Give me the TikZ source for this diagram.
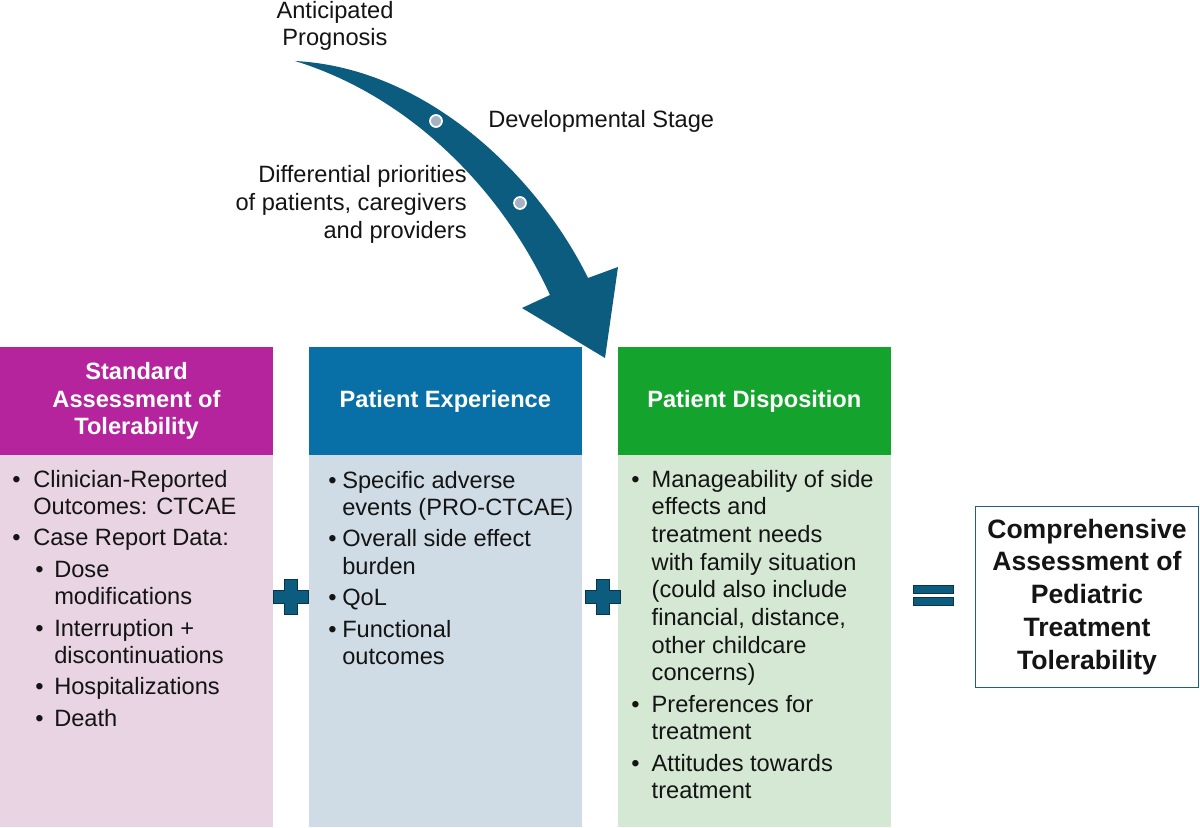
\documentclass[tikz,border=0pt]{standalone}
\usepackage{fontspec}
\setmainfont{Liberation Sans}
\usetikzlibrary{positioning}
\definecolor{magentahd}{RGB}{182,36,157}
\definecolor{bluehd}{RGB}{8,112,166}
\definecolor{greenhd}{RGB}{20,163,44}
\definecolor{pinkbody}{RGB}{232,212,226}
\definecolor{bluebody}{RGB}{208,220,229}
\definecolor{greenbody}{RGB}{212,232,212}
\definecolor{arrowteal}{RGB}{12,92,128}
\definecolor{plusline}{RGB}{10,52,72}
\definecolor{dotgray}{RGB}{165,178,195}
\definecolor{resultline}{RGB}{30,96,126}
\definecolor{ink}{RGB}{20,20,20}
\newcommand{\subbul}{\makebox[0.525cm][l]{\hspace{0.05cm}\textbullet}}

\begin{document}
\begin{tikzpicture}[x=0.025cm,y=-0.025cm,
  headbox/.style={minimum width=6.82cm,minimum height=2.7cm,inner sep=0pt,
                  font=\fontsize{16.8pt}{19.7pt}\selectfont\bfseries,
                  text=white,align=center},
  bodybox/.style={minimum width=6.82cm,minimum height=9.3cm,inner sep=0pt},
  listtext/.style={anchor=base west,inner sep=0pt,text=ink,
                   font=\fontsize{16.8pt}{19.7pt}\selectfont},
  lbl/.style={inner sep=0pt,text=ink,font=\fontsize{16.8pt}{19.7pt}\selectfont},
  dot/.style={circle,fill=dotgray,draw=white,line width=1.2pt,
              minimum size=0.3cm,inner sep=0pt},
  eqbar/.style={fill=arrowteal,draw=plusline,line width=0.6pt,
                minimum width=1cm,minimum height=0.2cm,inner sep=0pt},
  result/.style={draw=resultline,line width=1.1pt,fill=white,
                 minimum width=5.58cm,minimum height=4.52cm,inner sep=0pt,
                 font=\fontsize{18.9pt}{23.4pt}\selectfont\bfseries,
                 text=ink,align=center},
  plussign/.pic={\filldraw[fill=arrowteal,draw=plusline,line width=0.7pt]
      (-6.5,-17.5) -- (6.5,-17.5) -- (6.5,-6.5) -- (17.5,-6.5) -- (17.5,6.5)
      -- (6.5,6.5) -- (6.5,17.5) -- (-6.5,17.5) -- (-6.5,6.5) -- (-17.5,6.5)
      -- (-17.5,-6.5) -- (-6.5,-6.5) -- cycle;}]
\useasboundingbox (0,0) rectangle (1200,827);

% curved arrow
\fill[arrowteal] (295,61) .. controls (430,68) and (540,180) .. (588,278)
  -- (618,267) -- (605,358) -- (522,308) -- (550,295)
  .. controls (503,192) and (412,97) .. (295,61) -- cycle;
\node[dot] (dot1) at (436,121) {};
\node[dot] (dot2) at (520,203) {};

\node[lbl,anchor=base,align=center] (prog) at (335,46) {Anticipated\\Prognosis};
\node[lbl,anchor=base west] (dev) at (488,128) {Developmental Stage};
\node[lbl,anchor=base east,align=right] (prio) at (467,238)
  {Differential priorities\\of patients, caregivers\\and providers};

% columns
\node[bodybox,fill=pinkbody] (body1) at (136.5,641) {};
\node[bodybox,fill=bluebody] (body2) at (445.3,641) {};
\node[bodybox,fill=greenbody] (body3) at (754.3,641) {};
\node[headbox,fill=magentahd] (head1) at (136.5,401)
  {Standard\\Assessment of\\Tolerability};
\node[headbox,fill=bluehd] (head2) at (445.3,401) {Patient Experience};
\node[headbox,fill=greenhd] (head3) at (754.3,401) {Patient Disposition};

\node[listtext] (list1) at (12,487) {\begin{tabular}[t]{@{}p{0.525cm}@{}l@{}}
\textbullet & Clinician-Reported\\
 & Outcomes: CTCAE\\[2.5pt]
\textbullet & Case Report Data:\\[2.5pt]
 & \subbul Dose\\
 & \hspace*{0.525cm}modifications\\[2.5pt]
 & \subbul Interruption +\\
 & \hspace*{0.525cm}discontinuations\\[2.5pt]
 & \subbul Hospitalizations\\[2.5pt]
 & \subbul Death
\end{tabular}};
\node[listtext] (list2) at (328,488) {\begin{tabular}[t]{@{}p{0.35cm}@{}l@{}}
\textbullet & Specific adverse\\
 & events (PRO-CTCAE)\\[2.5pt]
\textbullet & Overall side effect\\
 & burden\\[2.5pt]
\textbullet & QoL\\[2.5pt]
\textbullet & Functional\\
 & outcomes
\end{tabular}};
\node[listtext] (list3) at (631,487) {\begin{tabular}[t]{@{}p{0.51cm}@{}l@{}}
\textbullet & Manageability of side\\
 & effects and\\
 & treatment needs\\
 & with family situation\\
 & (could also include\\
 & financial, distance,\\
 & other childcare\\
 & concerns)\\[2.5pt]
\textbullet & Preferences for\\
 & treatment\\[2.5pt]
\textbullet & Attitudes towards\\
 & treatment
\end{tabular}};

\pic at (290.5,597) {plussign};
\pic at (603,597) {plussign};
\node[eqbar] (eqtop) at (933,589) {};
\node[eqbar] (eqbot) at (933,601) {};
\node[result] (total) at (1087,597)
  {Comprehensive\\Assessment of\\Pediatric\\Treatment\\Tolerability};
\end{tikzpicture}
\end{document}
